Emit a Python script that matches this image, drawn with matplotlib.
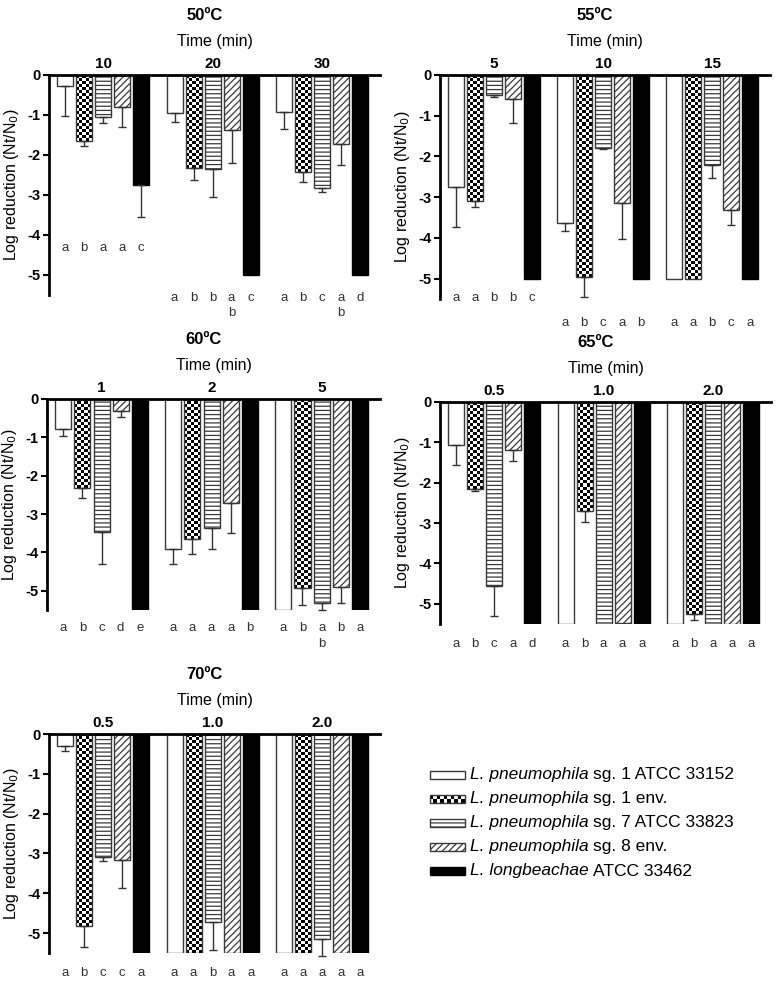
import numpy as np
import matplotlib
matplotlib.use('Agg')
import matplotlib.pyplot as plt
from matplotlib.patches import Rectangle

plt.rcParams['font.family'] = ['Liberation Sans', 'DejaVu Sans']
plt.rcParams['hatch.linewidth'] = 0.9

# strains (legend)
strain_italic = ['L. pneumophila', 'L. pneumophila', 'L. pneumophila', 'L. pneumophila', 'L. longbeachae']
strain_rest = ['sg. 1 ATCC 33152', 'sg. 1 env.', 'sg. 7 ATCC 33823', 'sg. 8 env.', 'ATCC 33462']

temps = ['50ºC', '55ºC', '60ºC', '65ºC', '70ºC']
times = [['10', '20', '30'], ['5', '10', '15'], ['1', '2', '5'],
         ['0.5', '1.0', '2.0'], ['0.5', '1.0', '2.0']]

# mean log reduction, one row per time, one value per strain
mean_50 = [[-0.28, -1.64, -1.06, -0.81, -2.75],
           [-0.94, -2.32, -2.35, -1.38, -5.0],
           [-0.93, -2.42, -2.82, -1.73, -5.0]]
err_50 = [[0.74, 0.13, 0.15, 0.50, 0.81],
          [0.24, 0.31, 0.69, 0.82, 0],
          [0.41, 0.26, 0.10, 0.51, 0]]
mean_55 = [[-2.76, -3.09, -0.49, -0.59, -5.0],
           [-3.64, -4.97, -1.80, -3.15, -5.0],
           [-5.0, -5.0, -2.22, -3.31, -5.0]]
err_55 = [[0.96, 0.14, 0.06, 0.58, 0],
          [0.18, 0.47, 0.02, 0.88, 0],
          [0, 0, 0.32, 0.37, 0]]
mean_60 = [[-0.79, -2.33, -3.46, -0.31, -5.5],
           [-3.90, -3.65, -3.37, -2.72, -5.5],
           [-5.5, -4.92, -5.33, -4.90, -5.5]]
err_60 = [[0.17, 0.26, 0.84, 0.15, 0],
          [0.39, 0.40, 0.55, 0.78, 0],
          [0, 0.45, 0.16, 0.41, 0]]
mean_65 = [[-1.07, -2.15, -4.55, -1.20, -5.5],
           [-5.5, -2.71, -5.5, -5.47, -5.5],
           [-5.5, -5.25, -5.5, -5.5, -5.5]]
err_65 = [[0.48, 0.06, 0.74, 0.26, 0],
          [0, 0.27, 0, 0, 0],
          [0, 0.15, 0, 0, 0]]
mean_70 = [[-0.30, -4.83, -3.09, -3.16, -5.5],
           [-5.5, -5.5, -4.71, -5.5, -5.5],
           [-5.5, -5.5, -5.15, -5.5, -5.5]]
err_70 = [[0.12, 0.52, 0.11, 0.71, 0],
          [0, 0, 0.72, 0, 0],
          [0, 0, 0.42, 0, 0]]

# significance letters
let_50 = [['a', 'b', 'a', 'a', 'c'], ['a', 'b', 'b', 'a\nb', 'c'], ['a', 'b', 'c', 'a\nb', 'd']]
let_55 = [['a', 'a', 'b', 'b', 'c'], ['a', 'b', 'c', 'a', 'b'], ['a', 'a', 'b', 'c', 'a']]
let_60 = [['a', 'b', 'c', 'd', 'e'], ['a', 'a', 'a', 'a', 'b'], ['a', 'b', 'a\nb', 'b', 'a']]
let_65 = [['a', 'b', 'c', 'a', 'd'], ['a', 'b', 'a', 'a', 'a'], ['a', 'b', 'a', 'a', 'a']]
let_70 = [['a', 'b', 'c', 'c', 'a'], ['a', 'a', 'b', 'a', 'a'], ['a', 'a', 'a', 'a', 'a']]
let_y = [[-4.33, -5.58, -5.58], [-5.47, -6.08, -6.08], [-5.98, -5.98, -5.98],
         [-6.0, -6.0, -6.0], [-6.0, -6.0, -6.0]]

means = [mean_50, mean_55, mean_60, mean_65, mean_70]
errs = [err_50, err_55, err_60, err_65, err_70]
letters = [let_50, let_55, let_60, let_65, let_70]

# panel boxes in pixels: left, top, right, bottom
boxes = [(49, 75, 380, 295), (440, 75, 770, 299), (47, 399, 380, 610),
         (440, 402, 771, 624), (49, 734, 380, 953)]

W, H = 776, 985
GAP = 5.75
BW = 0.84
styles = [dict(color='white', hatch=None), dict(color='white', hatch='check'),
          dict(color='white', hatch='----'), dict(color='white', hatch='/////'),
          dict(color='black', hatch=None)]
EDGE = '#3a3a3a'


def checker(ax, x0, y0, w, h, ppx, ppy, clip, cell=3.0, z=1.5):
    ncol = max(1, int(round(abs(w) * ppx / cell)))
    nrow = max(1, int(round(abs(h) * ppy / cell)))
    img = np.add.outer(np.arange(nrow), np.arange(ncol)) % 2
    im = ax.imshow(img, cmap='gray', extent=(x0, x0 + w, y0 + h, y0), aspect='auto',
                   interpolation='nearest', zorder=z)
    im.set_clip_path(clip)


fig = plt.figure(figsize=(W / 100, H / 100), dpi=100)

for p in range(5):
    l, t, r, b = boxes[p]
    ax = fig.add_axes([l / W, 1 - b / H, (r - l) / W, (b - t) / H])
    xlo, xhi = -0.85, 2 * GAP + 4 + 1.05
    ppx = (r - l) / (xhi - xlo)
    ppy = (b - t) / 5.5
    for g in range(3):
        xs = g * GAP + np.arange(5)
        for s in range(5):
            m = means[p][g][s]
            st = styles[s]
            if st['hatch'] == 'check':
                bar = ax.bar(xs[s], m, width=BW, facecolor='none', edgecolor=EDGE,
                             linewidth=1, zorder=2)[0]
                checker(ax, xs[s] - BW / 2, 0, BW, m, ppx, ppy, bar)
            else:
                ax.bar(xs[s], m, width=BW, facecolor=st['color'],
                       edgecolor='black' if st['color'] == 'black' else EDGE,
                       hatch=st['hatch'], linewidth=1, zorder=2)
            e = errs[p][g][s]
            if e > 0:
                ax.errorbar(xs[s], m, yerr=[[e], [0]], fmt='none', ecolor='#333333',
                            elinewidth=1, capsize=3, capthick=1, zorder=3, clip_on=False)
            for k, line in enumerate(letters[p][g][s].split('\n')):
                ax.annotate(line, (xs[s], let_y[p][g]), xytext=(0, -11 * k),
                            textcoords='offset points', ha='center', va='center',
                            fontsize=9.5, color='#333333', annotation_clip=False)
        ax.annotate(times[p][g], (xs[2], 0), xytext=(0, 8), textcoords='offset points',
                    ha='center', va='center', fontsize=11, fontweight='bold')

    ax.set_xlim(xlo, xhi)
    ax.set_ylim(-5.5, 0)
    ax.set_yticks([0, -1, -2, -3, -4, -5])
    ax.set_yticklabels(['0', '-1', '-2', '-3', '-4', '-5'], fontweight='bold', fontsize=10.5)
    ax.set_xticks([])
    for side in ['right', 'bottom']:
        ax.spines[side].set_visible(False)
    ax.spines['top'].set_linewidth(2)
    ax.spines['left'].set_linewidth(2)
    ax.tick_params(axis='y', direction='out', length=4, width=1.5, pad=2)
    ax.set_ylabel('Log reduction (Nt/N$_0$)', fontsize=11.5)
    ax.yaxis.set_label_coords(-28 / (r - l), 0.5)
    ax.annotate(temps[p], (0.47, 1), xycoords='axes fraction', xytext=(0, 43),
                textcoords='offset points', ha='center', va='center',
                fontsize=12, fontweight='bold')
    ax.annotate('Time (min)', (0.5, 1), xycoords='axes fraction', xytext=(0, 24),
                textcoords='offset points', ha='center', va='center', fontsize=11.5)

# legend drawn in pixel coordinates
lax = fig.add_axes([0, 0, 1, 1])
lax.set_xlim(0, W)
lax.set_ylim(H, 0)
lax.axis('off')
rows_y = [775, 799, 823, 847, 871]
renderer = fig.canvas.get_renderer()
for s in range(5):
    y = rows_y[s]
    st = styles[s]
    if st['hatch'] == 'check':
        rect = Rectangle((430, y - 4), 35, 8, facecolor='none', edgecolor=EDGE, lw=1, zorder=2)
        lax.add_patch(rect)
        img = np.add.outer(np.arange(2), np.arange(10)) % 2
        im = lax.imshow(img, cmap='gray', extent=(430, 465, y + 4, y - 4), aspect='auto',
                        interpolation='nearest', zorder=1.5)
        im.set_clip_path(rect)
    else:
        rect = Rectangle((430, y - 4), 35, 8, facecolor=st['color'],
                         edgecolor='black' if st['color'] == 'black' else EDGE,
                         hatch=st['hatch'], lw=1, zorder=2)
        lax.add_patch(rect)
    t1 = lax.text(470, y, strain_italic[s], fontsize=12.5, style='italic', va='center')
    wpx = t1.get_window_extent(renderer).width
    lax.text(470 + wpx + 4, y, strain_rest[s], fontsize=12.5, va='center')
lax.set_xlim(0, W)
lax.set_ylim(H, 0)

fig.savefig('out.png', dpi=100)
